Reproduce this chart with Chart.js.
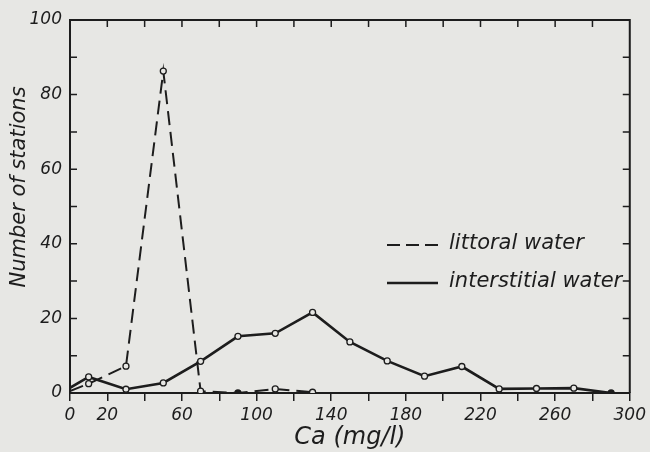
<!DOCTYPE html>
<html>
<head>
<meta charset="utf-8">
<script src="https://cdn.jsdelivr.net/npm/chart.js@4/dist/chart.umd.min.js"></script>
<style>
  html, body { margin: 0; padding: 0; background: #e7e7e4; }
  #wrap { width: 650px; height: 452px; position: relative; }
</style>
</head>
<body>
<div id="wrap"><canvas id="c" width="650" height="452"></canvas></div>
<script>
// ---- data ----
const littoralX = [0, 10, 30, 50, 70, 90, 110, 130];
const littoralY = [0.5, 2.5, 7.2, 86.3, 0.5, 0, 1.1, 0.2];
const interstitialX = [0, 10, 30, 50, 70, 90, 110, 130, 150, 170, 190, 210, 230, 250, 270, 290];
const interstitialY = [1.4, 4.3, 1.0, 2.7, 8.5, 15.2, 16.0, 21.6, 13.7, 8.6, 4.5, 7.1, 1.1, 1.2, 1.3, 0];
const xTickLabels = [0, 20, 60, 100, 140, 180, 220, 260, 300];
const yTickLabels = [0, 20, 40, 60, 80, 100];
const seriesNames = ['littoral water', 'interstitial water'];
const xTitle = 'Ca (mg/l)';
const yTitle = 'Number of stations';

const INK = '#1d1d1d';
const BG = '#e7e7e4';
const FONT = '"DejaVu Sans", sans-serif';

function pts(xs, ys) { return xs.map((x, i) => ({ x: x, y: ys[i] })); }

const littoralData = pts(littoralX, littoralY);
const interstitialData = pts(interstitialX, interstitialY);

const framePlugin = {
  id: 'frame',
  afterDraw(chart) {
    const ctx = chart.ctx;
    const a = chart.chartArea;
    const xs = chart.scales.x, ys = chart.scales.y;
    ctx.save();
    ctx.strokeStyle = INK;
    ctx.lineWidth = 2;
    ctx.beginPath();
    ctx.moveTo(a.left, a.top); ctx.lineTo(a.right, a.top); ctx.lineTo(a.right, a.bottom);
    ctx.stroke();
    ctx.lineWidth = 1.5;
    ctx.beginPath();
    for (let v = 10; v < 100; v += 10) {
      const py = ys.getPixelForValue(v);
      ctx.moveTo(a.left, py); ctx.lineTo(a.left + 7, py);
      ctx.moveTo(a.right, py); ctx.lineTo(a.right - 7, py);
    }
    for (let v = 20; v < 300; v += 20) {
      const px = xs.getPixelForValue(v);
      ctx.moveTo(px, a.top); ctx.lineTo(px, a.top + 7);
    }
    ctx.stroke();

    // y title
    ctx.fillStyle = INK;
    ctx.font = 'italic 21px ' + FONT;
    ctx.textAlign = 'center';
    ctx.textBaseline = 'middle';
    ctx.translate(20, 187);
    ctx.rotate(-Math.PI / 2);
    ctx.fillText(yTitle, 0, 0);
    ctx.restore();

    // legend
    ctx.save();
    ctx.strokeStyle = INK;
    ctx.fillStyle = INK;
    ctx.font = 'italic 21px ' + FONT;
    ctx.textAlign = 'left';
    ctx.textBaseline = 'middle';
    const rows = [{ y: 245, dash: [13, 6], lw: 2 }, { y: 283, dash: [], lw: 2.6 }];
    chart.data.datasets.forEach((ds, i) => {
      const r = rows[i];
      ctx.lineWidth = r.lw;
      ctx.setLineDash(r.dash);
      ctx.beginPath();
      ctx.moveTo(387, r.y); ctx.lineTo(438, r.y);
      ctx.stroke();
      ctx.setLineDash([]);
      ctx.fillText(ds.label, 449, r.y - 1);
    });
    ctx.restore();
  }
};

new Chart(document.getElementById('c'), {
  type: 'scatter',
  data: {
    datasets: [
      {
        label: seriesNames[0],
        data: littoralData,
        showLine: true,
        borderColor: INK,
        borderWidth: 2,
        borderDash: [14, 7],
        pointRadius: littoralX.map(x => x === 0 ? 0 : 3),
        pointBackgroundColor: littoralX.map(x => x === 90 ? INK : BG),
        pointBorderColor: INK,
        pointBorderWidth: 1.3,
        tension: 0
      },
      {
        label: seriesNames[1],
        data: interstitialData,
        showLine: true,
        borderColor: INK,
        borderWidth: 2.6,
        pointRadius: interstitialX.map(x => x === 0 ? 0 : 3),
        pointBackgroundColor: interstitialX.map(x => x === 290 ? INK : BG),
        pointBorderColor: INK,
        pointBorderWidth: 1.3,
        tension: 0
      }
    ]
  },
  options: {
    responsive: false,
    animation: false,
    devicePixelRatio: 1,
    layout: { padding: { left: 0, right: 17, top: 20, bottom: 0 } },
    plugins: { legend: { display: false }, tooltip: { enabled: false } },
    scales: {
      x: {
        type: 'linear',
        min: 0, max: 300,
        afterFit(s) { s.height = 59; },
        border: { display: true, color: INK, width: 2 },
        grid: { drawOnChartArea: false, drawTicks: true, tickLength: 8, color: INK, lineWidth: 1.5 },
        ticks: {
          stepSize: 20,
          autoSkip: false,
          maxRotation: 0,
          padding: 4,
          color: INK,
          font: { family: FONT, size: 17, style: 'italic' },
          callback: v => xTickLabels.includes(v) ? String(v) : ''
        },
        title: {
          display: true,
          text: xTitle,
          color: INK,
          font: { family: FONT, size: 24, style: 'italic' },
          padding: { top: 0, bottom: 0 }
        }
      },
      y: {
        min: 0, max: 100,
        afterFit(s) { s.width = 70; },
        border: { display: true, color: INK, width: 2 },
        grid: { drawOnChartArea: false, drawTicks: false },
        ticks: {
          stepSize: 10,
          autoSkip: false,
          padding: 8,
          color: INK,
          font: { family: FONT, size: 17, style: 'italic' },
          callback: v => yTickLabels.includes(v) ? String(v) : ''
        }
      }
    }
  },
  plugins: [framePlugin]
});
</script>
</body>
</html>
